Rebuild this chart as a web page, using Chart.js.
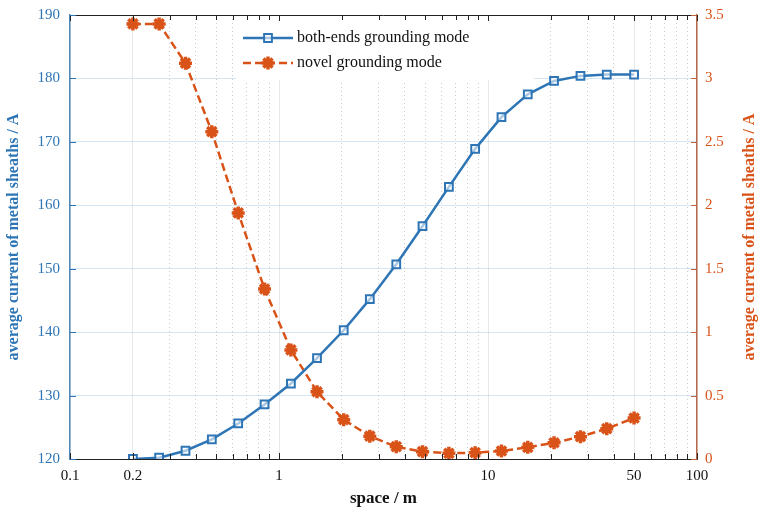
<!DOCTYPE html>
<html>
<head>
<meta charset="utf-8">
<script src="https://cdn.jsdelivr.net/npm/chart.js@4.4.1/dist/chart.umd.min.js"></script>
<style>
  body { margin: 0; background: #fff; }
  #wrap { width: 762px; height: 514px; }
</style>
</head>
<body>
<div id="wrap"><canvas id="chart"></canvas></div>
<script>
// spacing between cables (m), log spaced
var space = [0.2, 0.267, 0.357, 0.477, 0.638, 0.853, 1.14, 1.52, 2.04, 2.72,
             3.64, 4.86, 6.50, 8.68, 11.6, 15.5, 20.7, 27.7, 37.0, 50];
// both-ends grounding (left axis, A)
var bothEnds = [120.0, 120.2, 121.3, 123.1, 125.6, 128.6, 131.9, 135.9, 140.3, 145.2,
                150.7, 156.7, 162.9, 168.9, 173.9, 177.5, 179.6, 180.4, 180.6, 180.6];
// novel grounding (right axis, A)
var novel = [3.43, 3.43, 3.12, 2.58, 1.94, 1.34, 0.86, 0.53, 0.31, 0.18,
             0.097, 0.058, 0.045, 0.050, 0.063, 0.092, 0.128, 0.176, 0.239, 0.323];

var xLabels = [0.1, 0.2, 1, 10, 50, 100];
var xGrid = [0.1, 0.2, 0.3, 0.4, 0.5, 0.6, 0.7, 0.8, 0.9,
             1, 2, 3, 4, 5, 6, 7, 8, 9,
             10, 20, 30, 40, 50, 60, 70, 80, 90, 100];

var BLUE = '#2e75b6';
var ORANGE = '#d95319';
var SERIF = "'Liberation Serif', 'Times New Roman', serif";
var yTitle = 'average current of metal sheaths / A';

function isMajor(v) {
  return xLabels.some(function (m) { return Math.abs(m - v) < 1e-9; });
}

// let the plot area run up to the top label instead of reserving overhang
function noPad(scale) {
  scale.paddingTop = 0;
  scale.paddingBottom = 0;
}

var framePlugin = {
  id: 'frame',
  afterDraw: function (chart) {
    var ctx = chart.ctx, a = chart.chartArea;
    var x = chart.scales.x, y = chart.scales.y, y1 = chart.scales.y1;
    ctx.save();
    // top border
    ctx.strokeStyle = '#222';
    ctx.lineWidth = 1;
    ctx.beginPath();
    ctx.moveTo(a.left, a.top + 0.5);
    ctx.lineTo(a.right, a.top + 0.5);
    ctx.stroke();
    // inward x ticks, top and bottom
    ctx.beginPath();
    xGrid.forEach(function (v) {
      var px = Math.round(x.getPixelForValue(v)) + 0.5;
      var len = isMajor(v) ? 6 : 5;
      ctx.moveTo(px, a.bottom); ctx.lineTo(px, a.bottom - len);
      ctx.moveTo(px, a.top); ctx.lineTo(px, a.top + len);
    });
    ctx.stroke();
    // left ticks
    ctx.strokeStyle = BLUE;
    ctx.beginPath();
    y.ticks.forEach(function (t) {
      var py = Math.round(y.getPixelForValue(t.value)) + 0.5;
      ctx.moveTo(a.left, py); ctx.lineTo(a.left + 6, py);
    });
    ctx.stroke();
    // right ticks
    ctx.strokeStyle = '#c0623a';
    ctx.beginPath();
    y1.ticks.forEach(function (t) {
      var py = Math.round(y1.getPixelForValue(t.value)) + 0.5;
      ctx.moveTo(a.right, py); ctx.lineTo(a.right - 6, py);
    });
    ctx.stroke();
    // right title, reading bottom to top
    ctx.translate(750, (a.top + a.bottom) / 2);
    ctx.rotate(-Math.PI / 2);
    ctx.fillStyle = ORANGE;
    ctx.font = 'bold 16px ' + SERIF;
    ctx.textAlign = 'center';
    ctx.textBaseline = 'middle';
    ctx.fillText(yTitle, 0, 0);
    ctx.restore();
  }
};

var legendPlugin = {
  id: 'boxLegend',
  afterDatasetsDraw: function (chart) {
    var ctx = chart.ctx;
    var bx = 236, by = 16, bw = 298, bh = 64;
    ctx.save();
    ctx.fillStyle = '#fff';
    ctx.fillRect(bx, by, bw, bh);
    var rows = [
      { ds: chart.data.datasets[0], y: 38 },
      { ds: chart.data.datasets[1], y: 63 }
    ];
    rows.forEach(function (r) {
      var ds = r.ds;
      ctx.strokeStyle = ds.borderColor;
      ctx.lineWidth = ds.borderWidth;
      ctx.setLineDash(ds.borderDash || []);
      ctx.beginPath();
      ctx.moveTo(243, r.y); ctx.lineTo(293, r.y);
      ctx.stroke();
      ctx.setLineDash([]);
      var opts = { pointStyle: ds.pointStyle, radius: ds.pointRadius, borderWidth: ds.pointBorderWidth, rotation: 0 };
      ctx.fillStyle = ds.pointBackgroundColor;
      ctx.strokeStyle = ds.borderColor;
      ctx.lineWidth = ds.pointBorderWidth;
      Chart.helpers.drawPoint(ctx, opts, 268, r.y);
      ctx.fillStyle = '#111';
      ctx.font = '16px ' + SERIF;
      ctx.textAlign = 'left';
      ctx.textBaseline = 'middle';
      ctx.fillText(ds.label, 297, r.y);
    });
    ctx.restore();
  }
};

var ctx = document.getElementById('chart');
var chart = new Chart(ctx, {
  type: 'line',
  data: {
    datasets: [{
      label: 'both-ends grounding mode',
      data: space.map(function (s, i) { return { x: s, y: bothEnds[i] }; }),
      yAxisID: 'y',
      borderColor: BLUE,
      backgroundColor: BLUE,
      borderWidth: 2.5,
      pointStyle: 'rect',
      pointRadius: 5.5,
      pointBorderWidth: 2,
      pointBackgroundColor: 'rgba(255,255,255,0.6)',
      pointBorderColor: BLUE,
      tension: 0
    }, {
      label: 'novel grounding mode',
      data: space.map(function (s, i) { return { x: s, y: novel[i] }; }),
      yAxisID: 'y1',
      borderColor: ORANGE,
      backgroundColor: ORANGE,
      borderWidth: 2.5,
      borderDash: [8, 4],
      pointStyle: 'star',
      pointRadius: 6.5,
      pointBorderWidth: 3.5,
      pointBackgroundColor: ORANGE,
      pointBorderColor: ORANGE,
      tension: 0
    }]
  },
  options: {
    responsive: true,
    maintainAspectRatio: false,
    animation: false,
    layout: { padding: 0 },
    plugins: {
      legend: { display: false },
      tooltip: { enabled: false }
    },
    scales: {
      x: {
        type: 'logarithmic',
        position: 'bottom',
        min: 0.1,
        max: 100,
        afterBuildTicks: function (scale) {
          scale.ticks = xGrid.map(function (v) { return { value: v }; });
        },
        afterFit: function (scale) { scale.height = 55; },
        grid: {
          drawTicks: false,
          color: function (c) { return c.tick && isMajor(c.tick.value) ? 'rgba(0,0,0,0.09)' : 'rgba(0,0,0,0)'; }
        },
        border: { display: true, color: '#222', width: 1 },
        ticks: {
          autoSkip: false,
          maxRotation: 0,
          padding: 8,
          color: '#111',
          font: { family: SERIF, size: 15 },
          callback: function (v) { return isMajor(v) ? String(v) : ''; }
        },
        title: {
          display: true,
          text: 'space / m',
          color: '#111',
          font: { family: SERIF, size: 17, weight: 'bold' },
          padding: { top: 4, bottom: 5 }
        }
      },
      x2: {
        type: 'logarithmic',
        position: 'top',
        min: 0.1,
        max: 100,
        afterBuildTicks: function (scale) {
          scale.ticks = xGrid.map(function (v) { return { value: v }; });
        },
        afterFit: function (scale) { scale.height = 15; },
        grid: {
          drawTicks: false,
          color: function (c) { return c.tick && !isMajor(c.tick.value) ? 'rgba(0,0,0,0.2)' : 'rgba(0,0,0,0)'; }
        },
        border: { display: false, dash: [1, 3] },
        ticks: { display: false }
      },
      y: {
        position: 'left',
        min: 120,
        max: 190,
        afterFit: function (scale) { scale.width = 70; noPad(scale); },
        grid: { drawTicks: false, color: 'rgba(150,195,230,0.4)' },
        border: { display: true, color: '#4f87b8', width: 1.5 },
        ticks: {
          stepSize: 10,
          padding: 10,
          color: BLUE,
          font: { family: SERIF, size: 15 }
        },
        title: {
          display: true,
          text: yTitle,
          color: BLUE,
          font: { family: SERIF, size: 16, weight: 'bold' },
          padding: { top: 4, bottom: 4 }
        }
      },
      y1: {
        position: 'right',
        min: 0,
        max: 3.5,
        afterFit: function (scale) { scale.width = 65; noPad(scale); },
        grid: { drawOnChartArea: false, drawTicks: false },
        border: { display: true, color: '#b56a4a', width: 1.5 },
        ticks: {
          stepSize: 0.5,
          padding: 8,
          color: ORANGE,
          font: { family: SERIF, size: 15 },
          callback: function (v) { return String(v); }
        }
      }
    }
  },
  plugins: [framePlugin, legendPlugin]
});
</script>
</body>
</html>
